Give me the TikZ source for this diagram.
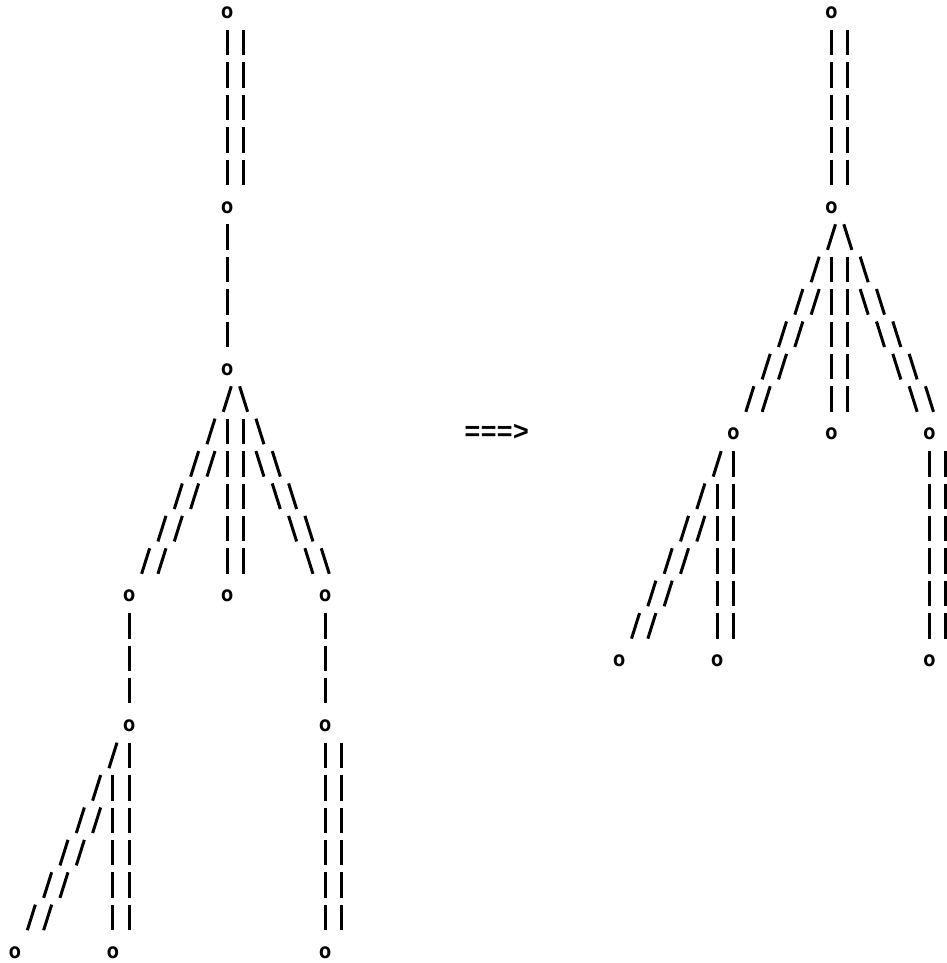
\documentclass[tikz,border=0pt]{standalone}
\usepackage{fontspec}
\newfontfamily\nodefont{DejaVu Sans Mono}
\newfontfamily\arrowfont{Liberation Mono}
\usetikzlibrary{calc,decorations.markings}
\begin{document}
\begin{tikzpicture}[x=16.33pt,y=-32.4pt,
  vertex/.style={inner sep=0pt, font=\nodefont\bfseries\fontsize{21}{21}\selectfont},
  bar/.style={line width=3pt, dash pattern=on 25.5pt off 6.9pt},
  glyphline/.style={line width=3pt},
  slashL/.style={decoration={markings, mark=between positions 0 and 1 step 36.283pt with {\draw[glyphline, rotate=9.3] (-13.4pt,0pt) -- (13.4pt,0pt);}}, decorate},
  slashR/.style={decoration={markings, mark=between positions 0 and 1 step 36.283pt with {\draw[glyphline, rotate=-9.3] (-13.4pt,0pt) -- (13.4pt,0pt);}}, decorate}]
\fill[white] (-15pt,13pt) rectangle (931pt,-950pt);
\useasboundingbox (-15pt,13pt) rectangle (931pt,-950pt);

% ---------- left tree ----------
\node[vertex] (L0)  at (13,0)  {o};
\node[vertex] (L1)  at (13,6)  {o};
\node[vertex] (L2)  at (13,11) {o};
\node[vertex] (L3a) at (7,18)  {o};
\node[vertex] (L3b) at (13,18) {o};
\node[vertex] (L3c) at (19,18) {o};
\node[vertex] (L4a) at (7,22)  {o};
\node[vertex] (L4c) at (19,22) {o};
\node[vertex] (L5a) at (0,29)  {o};
\node[vertex] (L5b) at (6,29)  {o};
\node[vertex] (L5c) at (19,29) {o};

\draw[bar] ($(L0)+(0,0.522)$) -- ($(L1)+(0,-0.691)$);
\draw[bar] ($(L0)+(1,0.522)$) -- ($(L1)+(1,-0.691)$);
\draw[bar] ($(L1)+(0,0.522)$) -- ($(L2)+(0,-0.691)$);
\path[slashL] ($(L2)+(0,0.915)$) -- ($(L3a)+(0.99,-1.075)$);
\path[slashL] ($(L2)+(-1,2.915)$) -- ($(L3a)+(1.99,-1.075)$);
\draw[bar] ($(L2)+(0,1.522)$) -- ($(L3b)+(0,-0.691)$);
\draw[bar] ($(L2)+(1,1.522)$) -- ($(L3b)+(1,-0.691)$);
\path[slashR] ($(L2)+(1,0.915)$) -- ($(L3c)+(0.01,-1.075)$);
\path[slashR] ($(L2)+(2,2.915)$) -- ($(L3c)+(-0.99,-1.075)$);
\draw[bar] ($(L3a)+(0,0.522)$) -- ($(L4a)+(0,-0.691)$);
\draw[bar] ($(L3c)+(0,0.522)$) -- ($(L4c)+(0,-0.691)$);
\path[slashL] ($(L4a)+(-1,0.915)$) -- ($(L5a)+(0.99,-1.075)$);
\path[slashL] ($(L4a)+(-2,2.915)$) -- ($(L5a)+(1.99,-1.075)$);
\draw[bar] ($(L4a)+(0,0.522)$) -- ($(L5b)+(1,-0.691)$);
\draw[bar] ($(L4a)+(-1,1.522)$) -- ($(L5b)+(0,-0.691)$);
\draw[bar] ($(L4c)+(0,0.522)$) -- ($(L5c)+(0,-0.691)$);
\draw[bar] ($(L4c)+(1,0.522)$) -- ($(L5c)+(1,-0.691)$);

% ---------- arrow ----------
\node[inner sep=0pt, font=\arrowfont\bfseries\fontsize{27}{27}\selectfont] (arrow) at (29.5,12.93) {===>};

% ---------- right tree ----------
\node[vertex] (R0)  at (50,0)  {o};
\node[vertex] (R1)  at (50,6)  {o};
\node[vertex] (R2a) at (44,13) {o};
\node[vertex] (R2b) at (50,13) {o};
\node[vertex] (R2c) at (56,13) {o};
\node[vertex] (R3a) at (37,20) {o};
\node[vertex] (R3b) at (43,20) {o};
\node[vertex] (R3c) at (56,20) {o};

\draw[bar] ($(R0)+(0,0.522)$) -- ($(R1)+(0,-0.691)$);
\draw[bar] ($(R0)+(1,0.522)$) -- ($(R1)+(1,-0.691)$);
\path[slashL] ($(R1)+(0,0.915)$) -- ($(R2a)+(0.99,-1.075)$);
\path[slashL] ($(R1)+(-1,2.915)$) -- ($(R2a)+(1.99,-1.075)$);
\draw[bar] ($(R1)+(0,1.522)$) -- ($(R2b)+(0,-0.691)$);
\draw[bar] ($(R1)+(1,1.522)$) -- ($(R2b)+(1,-0.691)$);
\path[slashR] ($(R1)+(1,0.915)$) -- ($(R2c)+(0.01,-1.075)$);
\path[slashR] ($(R1)+(2,2.915)$) -- ($(R2c)+(-0.99,-1.075)$);
\path[slashL] ($(R2a)+(-1,0.915)$) -- ($(R3a)+(0.99,-1.075)$);
\path[slashL] ($(R2a)+(-2,2.915)$) -- ($(R3a)+(1.99,-1.075)$);
\draw[bar] ($(R2a)+(0,0.522)$) -- ($(R3b)+(1,-0.691)$);
\draw[bar] ($(R2a)+(-1,1.522)$) -- ($(R3b)+(0,-0.691)$);
\draw[bar] ($(R2c)+(0,0.522)$) -- ($(R3c)+(0,-0.691)$);
\draw[bar] ($(R2c)+(1,0.522)$) -- ($(R3c)+(1,-0.691)$);
\end{tikzpicture}
\end{document}
